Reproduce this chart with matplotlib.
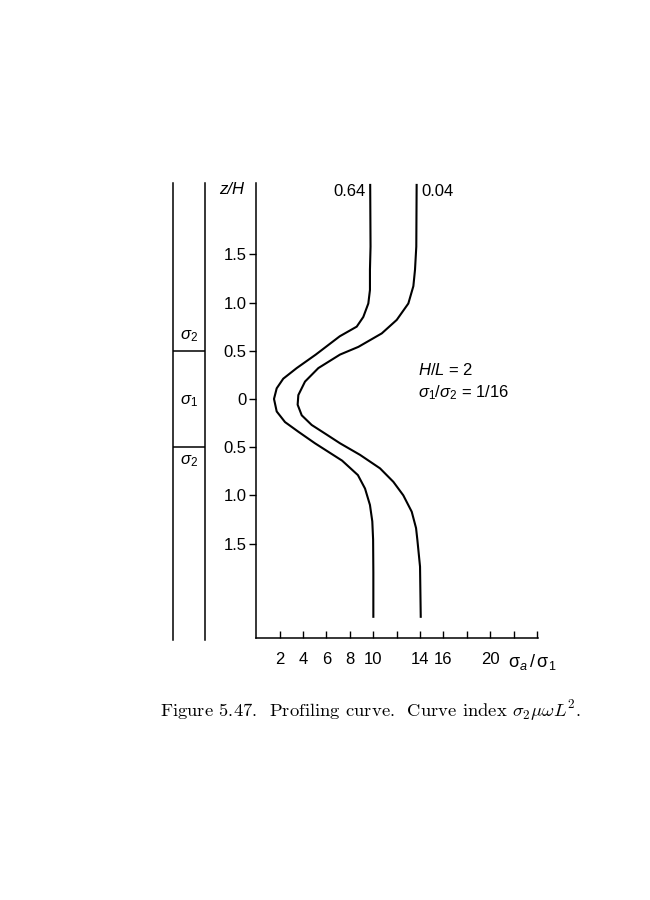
import numpy as np
import matplotlib.pyplot as plt

# fonts: sans for the chart, computer modern for the caption
plt.rcParams['font.family'] = ['Liberation Sans', 'DejaVu Sans']
plt.rcParams['mathtext.fontset'] = 'custom'
plt.rcParams['mathtext.rm'] = 'Liberation Sans'
plt.rcParams['mathtext.it'] = 'Liberation Sans:italic'
plt.rcParams['mathtext.bf'] = 'Liberation Sans:bold'

# profiling curves (z/H, sigma_a/sigma_1)
z_064 = [2.22, 1.58, 1.34, 1.13, 0.99, 0.85, 0.75, 0.65, 0.46, 0.32, 0.21, 0.11, 0.0,
         -0.13, -0.24, -0.34, -0.46, -0.64, -0.79, -0.93, -1.10, -1.27, -1.46, -1.80, -2.26]
s_064 = [9.75, 9.78, 9.73, 9.73, 9.59, 9.16, 8.60, 7.15, 5.10, 3.47, 2.32, 1.76, 1.53,
         1.76, 2.47, 3.61, 5.03, 7.35, 8.70, 9.31, 9.73, 9.93, 10.00, 10.02, 10.02]

z_004 = [2.22, 1.58, 1.34, 1.17, 0.99, 0.82, 0.68, 0.54, 0.46, 0.32, 0.18, 0.04, -0.06,
         -0.17, -0.27, -0.37, -0.46, -0.58, -0.72, -0.86, -1.00, -1.17, -1.34, -1.46, -1.74, -2.26]
s_004 = [13.72, 13.69, 13.58, 13.44, 13.01, 12.02, 10.74, 8.74, 7.17, 5.32, 4.18, 3.61, 3.55,
         3.90, 4.75, 6.03, 7.17, 8.88, 10.59, 11.73, 12.58, 13.30, 13.67, 13.78, 14.01, 14.07]

curve_names = ['0.64', '0.04']

# axis ticks
y_ticks = [1.5, 1.0, 0.5, 0.0, -0.5, -1.0, -1.5]
y_labels = ['1.5', '1.0', '0.5', '0', '0.5', '1.0', '1.5']
x_ticks = [2, 4, 6, 8, 10, 12, 14, 16, 18, 20, 22, 24]
x_labels = ['2', '4', '6', '8', '10', '', '14', '16', '', '20', '', '']

# layers in the little sketch on the left
layer_edges = [0.5, -0.5]

W, H = 650, 900
fig = plt.figure(figsize=(6.5, 9), dpi=100)

# main axes: x 256..538 px, y 183..638 px
ax = fig.add_axes([256.1 / W, 1 - 638 / H, 282 / W, 455 / H])
ax.plot(s_064, z_064, color='black', lw=1.5, solid_joinstyle='round')
ax.plot(s_004, z_004, color='black', lw=1.5, solid_joinstyle='round')
ax.set_xlim(0, 24.1)
ax.set_ylim(-2.48, 2.24)

for side in ['top', 'right']:
    ax.spines[side].set_visible(False)
for side in ['left', 'bottom']:
    ax.spines[side].set_linewidth(1.1)

ax.set_yticks(y_ticks)
ax.set_yticklabels(y_labels, fontsize=12)
ax.set_xticks(x_ticks)
ax.set_xticklabels(x_labels, fontsize=12)
ax.tick_params(axis='y', direction='out', length=5, width=1, pad=2)
ax.tick_params(axis='x', direction='in', length=5, width=1, pad=10)

ax.text(-2.06, 2.17, 'z/H', fontsize=12, style='italic', ha='center', va='center', clip_on=False)
ax.text(9.4, 2.15, curve_names[0], fontsize=12, ha='right', va='center')
ax.text(14.1, 2.15, curve_names[1], fontsize=12, ha='left', va='center')
ax.text(13.84, 0.30, r'$H/L$ = 2', fontsize=12, ha='left', va='center')
ax.text(13.84, 0.06, r'$\sigma_1/\sigma_2$ = 1/16', fontsize=12, ha='left', va='center')

fig.text(532 / W, 1 - 662 / H, r'$\mathrm{\sigma}_a\,/\,\mathrm{\sigma}_1$', fontsize=13,
         ha='center', va='center')

# layer sketch
ax2 = fig.add_axes([173 / W, 1 - 640 / H, 32 / W, 457 / H])
ax2.set_xlim(0, 1)
ax2.set_ylim(-2.50, 2.24)
for side in ['top', 'bottom']:
    ax2.spines[side].set_visible(False)
for side in ['left', 'right']:
    ax2.spines[side].set_linewidth(1.1)
ax2.set_xticks([])
ax2.set_yticks([])
ax2.hlines(layer_edges, 0, 1, color='black', lw=1.1)
ax2.text(0.5, 0.65, r'$\sigma_2$', fontsize=12, ha='center', va='center')
ax2.text(0.5, -0.02, r'$\sigma_1$', fontsize=12, ha='center', va='center')
ax2.text(0.5, -0.64, r'$\sigma_2$', fontsize=12, ha='center', va='center')

# caption
fig.text(371 / W, 1 - 711 / H, r'Figure 5.47.  Profiling curve.  Curve index $\sigma_2\mu\omega L^2$.',
         fontsize=13.4, family=['cmr10', 'DejaVu Serif'], math_fontfamily='cm',
         ha='center', va='center')

fig.savefig('out.png', dpi=100)
